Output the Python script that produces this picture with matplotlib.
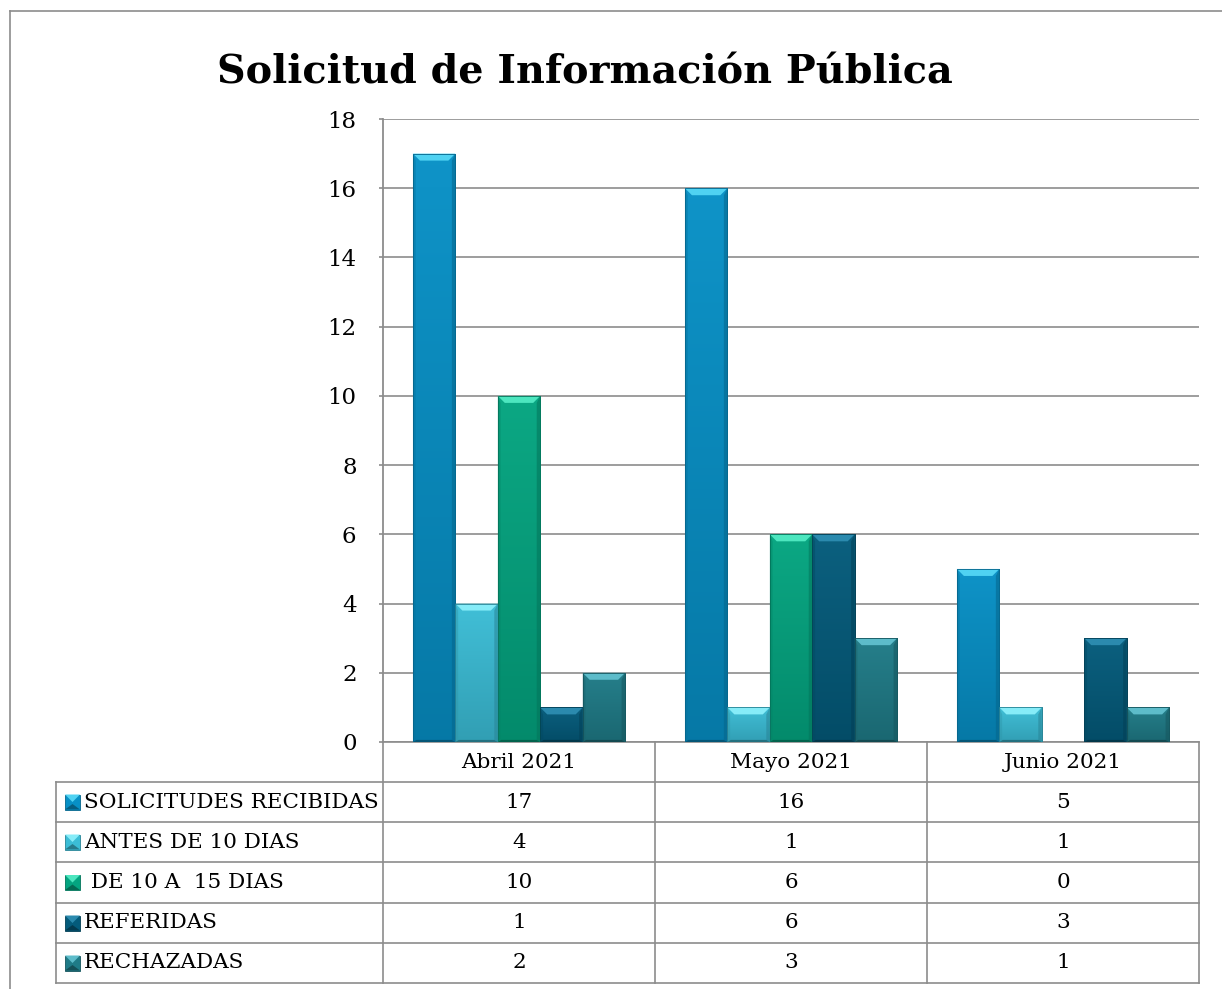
import matplotlib
matplotlib.use("Agg")
import matplotlib.pyplot as plt
import numpy as np
from matplotlib.patches import Polygon, Rectangle
from matplotlib.lines import Line2D
from matplotlib.colors import to_rgb

# ---------------- data ----------------
title = "Solicitud de Información Pública"
categories = ["Abril 2021", "Mayo 2021", "Junio 2021"]
series_names = ["SOLICITUDES RECIBIDAS", "ANTES DE 10 DIAS", " DE 10 A  15 DIAS",
                "REFERIDAS", "RECHAZADAS"]
solicitudes_recibidas = [17, 16, 5]
antes_de_10_dias = [4, 1, 1]
de_10_a_15_dias = [10, 6, 0]
referidas = [1, 6, 3]
rechazadas = [2, 3, 1]
series_values = [solicitudes_recibidas, antes_de_10_dias, de_10_a_15_dias,
                 referidas, rechazadas]
y_ticks = [0, 2, 4, 6, 8, 10, 12, 14, 16, 18]

# ---------------- style ----------------
face_colors = ["#0790C6", "#3BBDD6", "#04A580", "#045B7B", "#1F7B87"]
top_colors = ["#4FD2F2", "#86ECF8", "#4DE6BF", "#2B8AAE", "#5DBCCA"]
grid_color = "#8C8C8C"
SERIF = ["DejaVu Serif"]

W, H = 1222, 989
fig = plt.figure(figsize=(W / 100, H / 100), dpi=100)

L, R, T, B = 383, 1199, 119, 742  # plot area in pixels


def fx(px):
    return px / W


def fy(py):
    return 1 - py / H


ov = fig.add_axes([0, 0, 1, 1], zorder=0)
ov.set_xlim(0, W)
ov.set_ylim(H, 0)
ov.axis("off")

ax = fig.add_axes([fx(L), fy(B), fx(R) - fx(L), fy(T) - fy(B)], zorder=2)
ax.set_facecolor("none")

n_series = len(series_values)
x = np.arange(len(categories))
bw = 0.156
ax.set_xlim(-0.5, len(categories) - 0.5)
ax.set_ylim(0, 18)

px_x = (R - L) / len(categories)
px_y = (B - T) / 18.0


def shade(c, f):
    r, g, b = to_rgb(c)
    if f < 1:
        return (r * f, g * f, b * f)
    return (r + (1 - r) * (f - 1), g + (1 - g) * (f - 1), b + (1 - b) * (f - 1))


for i, (vals, fc, tc) in enumerate(zip(series_values, face_colors, top_colors)):
    offs = x + (i - (n_series - 1) / 2) * bw
    bars = ax.bar(offs, vals, width=bw, color=fc, edgecolor=shade(fc, 0.75),
                  linewidth=0.6, zorder=3)
    for rect in bars:
        h = rect.get_height()
        if h <= 0:
            continue
        x0 = rect.get_x()
        x1 = x0 + rect.get_width()
        bx = 7 / px_x
        by = 7 / px_y
        # vertical gradient (slightly darker toward bottom)
        grad = np.linspace(0, 1, 64).reshape(-1, 1, 1)
        top_c = np.array(shade(fc, 1.03))
        bot_c = np.array(shade(fc, 0.84))
        img = top_c * (1 - grad) + bot_c * grad
        img = np.repeat(img, 2, axis=1)
        im = ax.imshow(img, extent=(x0, x1, 0, h), origin="upper", aspect="auto",
                       interpolation="bilinear", zorder=3.1)
        im.set_clip_path(rect)
        # side shading
        ax.add_patch(Polygon([(x1, h), (x1, 0), (x1 - bx * 0.5, by * 0.3),
                              (x1 - bx * 0.5, h - by)], closed=True,
                             facecolor=shade(fc, 0.7), edgecolor="none",
                             alpha=0.55, zorder=3.2))
        ax.add_patch(Polygon([(x0, h), (x0, 0), (x0 + bx * 0.4, by * 0.3),
                              (x0 + bx * 0.4, h - by)], closed=True,
                             facecolor=shade(fc, 0.8), edgecolor="none",
                             alpha=0.45, zorder=3.2))
        # top bevel
        ax.add_patch(Polygon([(x0, h), (x1, h), (x1 - bx, h - by), (x0 + bx, h - by)],
                             closed=True, facecolor=tc, edgecolor="none", zorder=3.3))
        # bottom bevel
        ax.add_patch(Polygon([(x0, 0), (x1, 0), (x1 - bx * 0.5, by * 0.3),
                              (x0 + bx * 0.5, by * 0.3)], closed=True,
                             facecolor=shade(fc, 0.6), edgecolor="none", zorder=3.3))
        ax.add_patch(Rectangle((x0, 0), x1 - x0, h, facecolor="none",
                               edgecolor=shade(fc, 0.7), linewidth=0.6, zorder=3.4))

ax.set_xlim(-0.5, len(categories) - 0.5)
ax.set_ylim(0, 18)
ax.set_yticks(y_ticks)
ax.set_xticks([])
ax.yaxis.grid(True, color=grid_color, linewidth=1.2, zorder=1)
ax.set_axisbelow(True)
for s in ["top", "right", "bottom"]:
    ax.spines[s].set_visible(False)
ax.spines["left"].set_color(grid_color)
ax.spines["left"].set_linewidth(1.3)
ax.tick_params(axis="y", direction="out", length=3, width=1.2, color=grid_color,
               pad=16, labelsize=16.5)
for lab in ax.get_yticklabels():
    lab.set_fontfamily(SERIF)

# ---------------- frame ----------------
lc = grid_color
lw = 1.2
ov.add_line(Line2D([10, W], [11, 11], color=lc, lw=lw))
ov.add_line(Line2D([10, 10], [11, H], color=lc, lw=lw))

# ---------------- table ----------------
table_left = 56
row_edges = [742, 782, 822, 862, 903, 943, 983]
col_edges = [L + k * (R - L) / len(categories) for k in range(len(categories) + 1)]

ov.add_line(Line2D([L, R], [row_edges[0]] * 2, color=lc, lw=lw))
for ye in row_edges[1:]:
    ov.add_line(Line2D([table_left, R], [ye, ye], color=lc, lw=lw))
ov.add_line(Line2D([table_left] * 2, [row_edges[1], row_edges[-1]], color=lc, lw=lw))
for xe in col_edges:
    ov.add_line(Line2D([xe] * 2, [row_edges[0], row_edges[-1]], color=lc, lw=lw))

fs_tab = 15.5
for j, cat in enumerate(categories):
    cx = (col_edges[j] + col_edges[j + 1]) / 2
    cy = (row_edges[0] + row_edges[1]) / 2
    ov.text(cx, cy, cat, ha="center", va="center", fontsize=fs_tab, family=SERIF)

label_texts = []
for i, (name, vals, fc, tc) in enumerate(zip(series_names, series_values,
                                               face_colors, top_colors)):
    cy = (row_edges[i + 1] + row_edges[i + 2]) / 2
    ks = 15
    kx0 = 65
    ov.add_patch(Rectangle((kx0, cy - ks / 2), ks, ks, facecolor=fc,
                           edgecolor=shade(fc, 0.7), lw=0.6))
    ov.add_patch(Polygon([(kx0, cy - ks / 2), (kx0 + ks, cy - ks / 2),
                          (kx0 + ks / 2, cy)], closed=True, facecolor=tc,
                         edgecolor="none"))
    ov.add_patch(Polygon([(kx0, cy + ks / 2), (kx0 + ks, cy + ks / 2),
                          (kx0 + ks / 2, cy + 2)], closed=True,
                         facecolor=shade(fc, 0.65), edgecolor="none"))
    t = ov.text(84, cy, name, ha="left", va="center", fontsize=fs_tab, family=SERIF)
    label_texts.append(t)
    for j, v in enumerate(vals):
        cx = (col_edges[j] + col_edges[j + 1]) / 2
        ov.text(cx, cy, str(v), ha="center", va="center", fontsize=fs_tab,
                family=SERIF)

# ---------------- title ----------------
ttl = ov.text(585, 73, title, ha="center", va="center", fontsize=30,
              fontweight="bold", family=SERIF)

fig.canvas.draw()
rend = fig.canvas.get_renderer()
bb = ttl.get_window_extent(rend)
ttl.set_fontsize(30 * 735 / bb.width)

# keep the longest row label inside its cell
bbl = max(label_texts, key=lambda t: t.get_window_extent(rend).width).get_window_extent(rend)
if bbl.x1 > 378:
    scale = (378 - bbl.x0) / bbl.width
    for t in ov.texts:
        if t is not ttl:
            t.set_fontsize(t.get_fontsize() * scale)

fig.savefig("out.png", dpi=100, facecolor="white")
